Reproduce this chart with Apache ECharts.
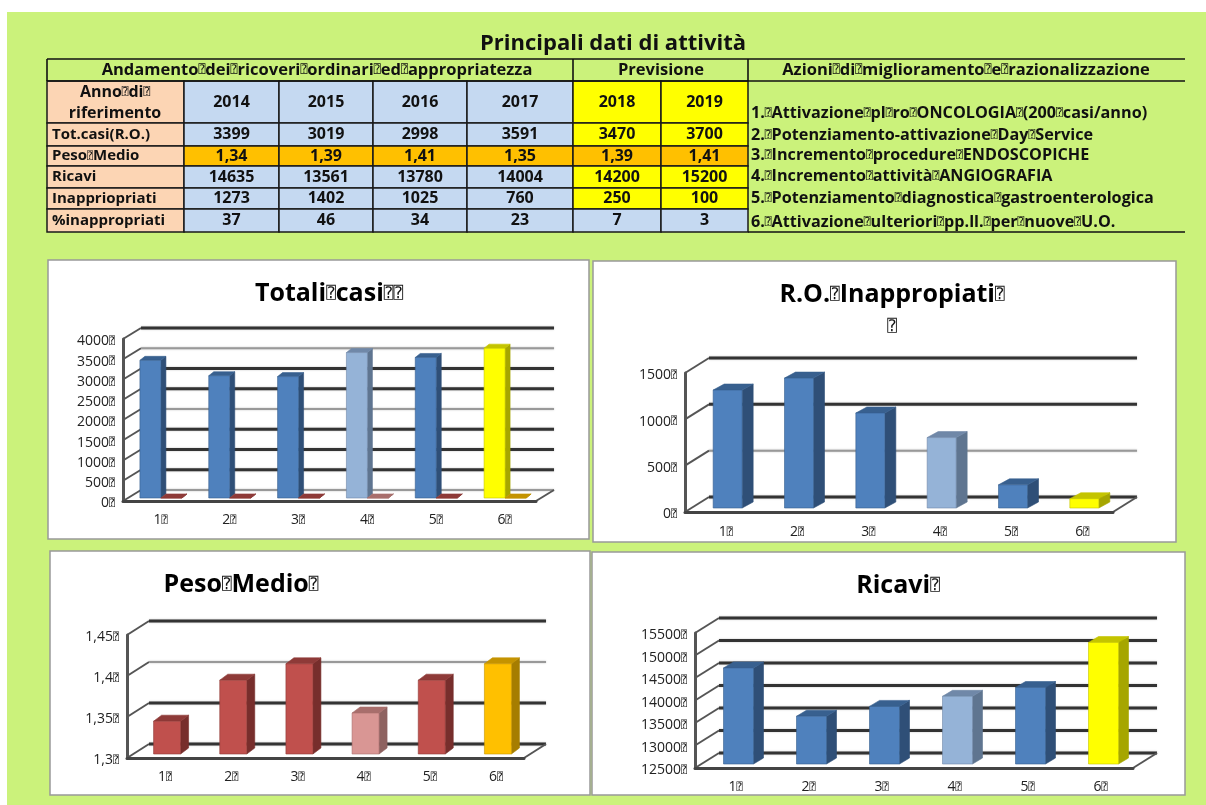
<!DOCTYPE html>
<html>
<head>
<meta charset="utf-8">
<title>Principali dati di attività</title>
<script src="https://cdn.jsdelivr.net/npm/echarts@6/dist/echarts.min.js"></script>
<style>
  html, body { margin: 0; padding: 0; background: #fff; }
  #main { width: 1206px; height: 805px; }
</style>
</head>
<body>
<div id="main"></div>
<script>
const categories = ['1', '2', '3', '4', '5', '6'];
const totCasi = [3399, 3019, 2998, 3591, 3470, 3700];
const pesoMedio = [1.34, 1.39, 1.41, 1.35, 1.39, 1.41];
const ricavi = [14635, 13561, 13780, 14004, 14200, 15200];
const inappropriati = [1273, 1402, 1025, 760, 250, 100];
const percInappropriati = [37, 46, 34, 23, 7, 3];

const totCasiTicks = [0, 500, 1000, 1500, 2000, 2500, 3000, 3500, 4000];
const inappTicks = [0, 500, 1000, 1500];
const pesoTicks = [1.3, 1.35, 1.4, 1.45];
const ricaviTicks = [12500, 13000, 13500, 14000, 14500, 15000, 15500];

const years = ['2014', '2015', '2016', '2017', '2018', '2019'];
const rowLabels = ['Tot.casi(R.O.)', 'Peso Medio', 'Ricavi', 'Inappriopriati', '%inappropriati'];
const azioni = [
  '1. Attivazione pl ro ONCOLOGIA (200 casi/anno)',
  '2. Potenziamento-attivazione Day Service',
  '3. Incremento procedure ENDOSCOPICHE',
  '4. Incremento attività ANGIOGRAFIA',
  '5. Potenziamento diagnostica gastroenterologica',
  '6. Attivazione ulteriori pp.ll. per nuove U.O.'
];

// colori delle barre 3D
const PALETTE = {
  blue: { front: '#4f81bd', side: '#2f4f77', top: '#38608f' },
  light: { front: '#95b3d7', side: '#5f7590', top: '#7088a8' },
  yellow: { front: '#ffff00', side: '#a6a600', top: '#c4c400' },
  red: { front: '#c0504d', side: '#772e2c', top: '#8e3a38' },
  pink: { front: '#d99694', side: '#8e6260', top: '#a86e6c' },
  orange: { front: '#ffc000', side: '#a67d00', top: '#c49300' }
};
const blueSet = ['blue', 'blue', 'blue', 'light', 'blue', 'yellow'];
const redSet = ['red', 'red', 'red', 'pink', 'red', 'orange'];

const DARK = { stroke: '#333', lineWidth: 3 };
const GREY = { stroke: '#999', lineWidth: 2 };

const FONT = '"Open Sans", sans-serif';
const QM = '\u2370'; // il carattere che nel riferimento appare come riquadro

// gli spazi del foglio originale escono come riquadri
function boxed(text) {
  return text.split(' ').join('{q|' + QM + '}');
}

function qmRich(size) {
  return { q: { fontFamily: '"DejaVu Sans Mono"', fontSize: size, fontWeight: 'normal', color: '#111' } };
}

// pareti e pavimento finti 3D
function wallSeries(idx, ticks, weights, depth) {
  return {
    type: 'custom',
    xAxisIndex: idx,
    yAxisIndex: idx,
    silent: true,
    z: 4,
    data: ticks.map((t, i) => [0, t, i]),
    encode: { x: 0, y: 1 },
    renderItem: function (params, api) {
      const rect = params.coordSys;
      const y = api.coord([0, api.value(1)])[1];
      const line = weights[api.value(2)] ? DARK : GREY;
      const children = [
        {
          type: 'line',
          shape: { x1: rect.x, y1: y, x2: rect.x + depth.dx, y2: y - depth.dy },
          style: { stroke: '#555', lineWidth: 2 }
        },
        {
          type: 'line',
          shape: { x1: rect.x + depth.dx, y1: y - depth.dy, x2: rect.x + rect.width + depth.dx, y2: y - depth.dy },
          style: { stroke: line.stroke, lineWidth: line.lineWidth, shadowColor: 'rgba(0,0,0,0.25)', shadowBlur: 2 }
        }
      ];
      if (api.value(2) === 0) {
        children.push({
          type: 'line',
          shape: { x1: rect.x + rect.width, y1: y, x2: rect.x + rect.width + depth.dx, y2: y - depth.dy },
          style: { stroke: '#555', lineWidth: 2 }
        });
      }
      return { type: 'group', children: children };
    }
  };
}

function barSeries(idx, values, colors, bar, axisMin) {
  return {
    type: 'custom',
    xAxisIndex: idx,
    yAxisIndex: idx,
    silent: true,
    z: 6,
    data: values.map((v, i) => [i, v]),
    encode: { x: 0, y: 1 },
    renderItem: function (params, api) {
      const i = api.value(0);
      const c = PALETTE[colors[i]];
      const topPt = api.coord([i, api.value(1)]);
      const basePt = api.coord([i, axisMin]);
      const x0 = topPt[0] + bar.offset - bar.w / 2;
      const x1 = x0 + bar.w;
      const yT = topPt[1] - bar.lift;
      const yB = basePt[1] - bar.lift;
      return {
        type: 'group',
        children: [
          {
            type: 'polygon',
            shape: { points: [[x1, yT], [x1 + bar.sx, yT - bar.sy], [x1 + bar.sx, yB - bar.sy], [x1, yB]] },
            style: { fill: c.side, stroke: c.side, lineWidth: 0.6 }
          },
          {
            type: 'polygon',
            shape: { points: [[x0, yT], [x0 + bar.sx, yT - bar.sy], [x1 + bar.sx, yT - bar.sy], [x1, yT]] },
            style: { fill: c.top, stroke: c.top, lineWidth: 0.6 }
          },
          {
            type: 'rect',
            shape: { x: x0, y: yT, width: bar.w, height: yB - yT },
            style: { fill: c.front, stroke: c.top, lineWidth: 0.6 }
          }
        ]
      };
    }
  };
}

const panels = [
  { box: [48, 260, 541, 279], grid: { left: 123, top: 339, width: 413, height: 162 }, labelShift: 6,
    ticks: totCasiTicks, weights: [0, 1, 1, 1, 0, 1, 1, 0, 1], depth: { dx: 18, dy: 11 }, margin: 12 },
  { box: [593, 261, 583, 281], grid: { left: 685, top: 373, width: 428, height: 139 }, labelShift: 10,
    ticks: inappTicks, weights: [1, 0, 1, 1], depth: { dx: 24, dy: 15 }, margin: 13 },
  { box: [50, 551, 540, 244], grid: { left: 127, top: 635, width: 397, height: 123 }, labelShift: 10,
    ticks: pesoTicks, weights: [1, 1, 0, 1], depth: { dx: 22, dy: 14 }, margin: 12 },
  { box: [592, 552, 593, 243], grid: { left: 695, top: 633, width: 438, height: 135 }, labelShift: 8,
    ticks: ricaviTicks, weights: [1, 1, 1, 1, 1, 1, 1], depth: { dx: 24, dy: 15 }, margin: 12 }
];

const series = [
  wallSeries(0, totCasiTicks, panels[0].weights, panels[0].depth),
  barSeries(0, totCasi, blueSet, { w: 21, sx: 5, sy: 4, offset: -7, lift: 3 }, 0),
  barSeries(0, pesoMedio, redSet, { w: 21, sx: 5, sy: 4, offset: 14, lift: 3 }, 0),
  wallSeries(1, inappTicks, panels[1].weights, panels[1].depth),
  barSeries(1, inappropriati, blueSet, { w: 29, sx: 11, sy: 6, offset: 7, lift: 4 }, 0),
  wallSeries(2, pesoTicks, panels[2].weights, panels[2].depth),
  barSeries(2, pesoMedio, redSet, { w: 27, sx: 8, sy: 6, offset: 7, lift: 4 }, 1.3),
  wallSeries(3, ricaviTicks, panels[3].weights, panels[3].depth),
  barSeries(3, ricavi, blueSet, { w: 30, sx: 10, sy: 6, offset: 7, lift: 4 }, 12500)
];

const chartTitles = [
  { text: 'Totali casi', tail: QM + QM, x: 324, y: 276 },
  { text: 'R.O. Inappropiati', tail: QM, x: 887, y: 277 },
  { text: 'Peso Medio', tail: QM, x: 236, y: 567 },
  { text: 'Ricavi', tail: QM, x: 893, y: 568 }
];

// ---- tabella disegnata con elementi graphic ----
const colX = [47, 184, 279, 373, 467, 573, 661, 748, 1185];
const rowY = [59, 81, 123, 146, 166, 188, 209, 232];

function cellText(text, x, y, size, align) {
  return {
    type: 'text',
    z: 5,
    style: {
      text: boxed(text),
      x: x,
      y: y,
      align: align || 'center',
      verticalAlign: 'middle',
      fontFamily: FONT,
      fontWeight: 'bold',
      fontSize: size,
      fill: '#111',
      rich: qmRich(size - 5)
    }
  };
}

function cell(c, r, fill) {
  return {
    type: 'rect',
    z: 2,
    shape: { x: colX[c], y: rowY[r], width: colX[c + 1] - colX[c], height: rowY[r + 1] - rowY[r] },
    style: { fill: fill, stroke: '#1a1a1a', lineWidth: 1.5 }
  };
}

function hline(x1, x2, y) {
  return {
    type: 'line',
    z: 3,
    shape: { x1: x1, y1: y, x2: x2, y2: y },
    style: { stroke: '#111', lineWidth: 1.6 }
  };
}

function buildTable() {
  const out = [];
  const BLUE = '#c5d9f1', PEACH = '#fcd5b4', ORANGE = '#ffc000', YELLOW = '#ffff00';
  const rows = [
    totCasi,
    pesoMedio.map(v => v.toFixed(2).replace('.', ',')),
    ricavi,
    inappropriati,
    percInappropriati
  ];

  // intestazione
  out.push(hline(47, 1185, rowY[0]), hline(47, 1185, rowY[1]));
  [47, 573, 748].forEach(x => out.push({
    type: 'line', z: 3,
    shape: { x1: x, y1: rowY[0], x2: x, y2: rowY[1] },
    style: { stroke: '#111', lineWidth: 1.6 }
  }));
  out.push(cellText('Andamento dei ricoveri ordinari ed appropriatezza', 317, 70, 16.5));
  out.push(cellText('Previsione', 661, 70, 16.5));
  out.push(cellText('Azioni di miglioramento e razionalizzazione', 966, 70, 16.5));

  // riga anni
  out.push(cell(0, 1, PEACH));
  out.push(cellText('Anno di ', 115, 92, 16));
  out.push(cellText('riferimento', 115, 113, 16));
  years.forEach((y, i) => {
    out.push(cell(i + 1, 1, i < 4 ? BLUE : YELLOW));
    out.push(cellText(y, (colX[i + 1] + colX[i + 2]) / 2, 102, 16));
  });

  // righe dati
  rowLabels.forEach((label, r) => {
    const ry = r + 2;
    const mid = (rowY[ry] + rowY[ry + 1]) / 2;
    out.push(cell(0, ry, PEACH));
    out.push(cellText(label, 52, mid, 15, 'left'));
    rows[r].forEach((v, i) => {
      let fill = i < 4 ? BLUE : YELLOW;
      if (r === 1) fill = ORANGE;
      if (r === 4) fill = BLUE;
      out.push(cell(i + 1, ry, fill));
      out.push(cellText(String(v), (colX[i + 1] + colX[i + 2]) / 2, mid, 16));
    });
  });

  // colonna azioni
  const azioniY = [113, 135, 155, 176, 198, 222];
  azioni.forEach((t, i) => out.push(cellText(t, 751, azioniY[i], 16.2, 'left')));
  out.push(hline(748, 1185, rowY[7]));
  return out;
}

const panelRects = panels.map(p => ({
  type: 'rect',
  z: 1,
  shape: { x: p.box[0], y: p.box[1], width: p.box[2], height: p.box[3] },
  style: { fill: '#fff', stroke: '#999', lineWidth: 1.5 }
}));

const axisText = { fontFamily: FONT, fontSize: 14, color: '#222' };

const option = {
  backgroundColor: '#fff',
  animation: false,
  title: [
    {
      text: 'Principali dati di attività',
      left: 608, top: 28, textAlign: 'center',
      textStyle: { fontFamily: FONT, fontWeight: 'bold', fontSize: 22, color: '#111' }
    }
  ].concat(chartTitles.map(t => ({
    text: boxed(t.text) + '{q|' + t.tail + '}',
    left: t.x, top: t.y, textAlign: 'center',
    textStyle: { fontFamily: FONT, fontWeight: 'bold', fontSize: 25, color: '#000', rich: qmRich(16) }
  }))).concat([{
    text: '{q|' + QM + '}',
    left: 887, top: 314, textAlign: 'center',
    textStyle: { rich: qmRich(16) }
  }]),
  grid: panels.map(p => p.grid),
  xAxis: panels.map((p, i) => ({
    type: 'category',
    gridIndex: i,
    z: 5,
    data: categories,
    axisTick: { show: false },
    axisLine: { onZero: false, lineStyle: { color: '#444', width: 3 } },
    axisLabel: Object.assign({}, axisText, {
      margin: p.margin,
      padding: [0, 0, 0, p.labelShift],
      formatter: v => v + '{q|' + QM + '}',
      rich: qmRich(10)
    }),
    splitLine: { show: false }
  })),
  yAxis: panels.map((p, i) => ({
    type: 'value',
    gridIndex: i,
    z: 5,
    min: p.ticks[0],
    max: p.ticks[p.ticks.length - 1],
    interval: Math.round((p.ticks[1] - p.ticks[0]) * 100) / 100,
    axisTick: { show: false },
    axisLine: { show: true, onZero: false, lineStyle: { color: '#555', width: 3 } },
    axisLabel: Object.assign({}, axisText, {
      margin: 8,
      padding: [5, 0, 0, 0],
      formatter: v => String(v).replace('.', ',') + '{q|' + QM + '}',
      rich: qmRich(10)
    }),
    splitLine: { show: false }
  })),
  graphic: {
    elements: [
      { type: 'rect', z: 0, shape: { x: 7, y: 12, width: 1199, height: 793 }, style: { fill: '#cbf27b' } }
    ].concat(panelRects, buildTable())
  },
  series: series
};

const chart = echarts.init(document.getElementById('main'));
chart.setOption(option);
</script>
</body>
</html>
